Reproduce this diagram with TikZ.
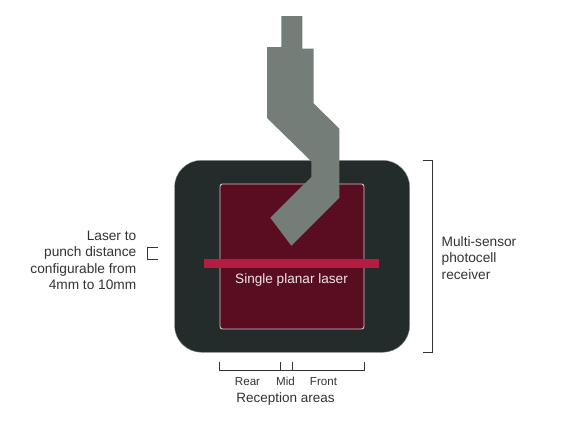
\documentclass[tikz,border=0pt]{standalone}
\usepackage{fontspec}
\setmainfont{Liberation Sans}
\definecolor{housing}{HTML}{242C2B}
\definecolor{housingedge}{HTML}{8E9391}
\definecolor{panel}{HTML}{5A0C20}
\definecolor{paneledge}{HTML}{CFC6C8}
\definecolor{laser}{HTML}{B51C42}
\definecolor{punch}{HTML}{757D79}
\definecolor{ink}{HTML}{333333}
\tikzset{
  housingbox/.style={fill=housing,draw=housingedge,line width=0.4pt,rounded corners=27pt},
  panelbox/.style={fill=panel,draw=paneledge,line width=0.9pt,rounded corners=2.5pt},
  laserbar/.style={fill=laser,draw=none},
  punchshape/.style={fill=punch,draw=none},
  bracket/.style={draw=ink,line width=0.9pt},
  lab/.style={text=ink,font=\fontsize{13.7}{16.4}\selectfont,inner sep=0pt},
  smalllab/.style={text=ink,font=\fontsize{11.6}{13}\selectfont,inner sep=0pt},
  midlab/.style={text=ink,font=\fontsize{13.5}{15}\selectfont,inner sep=0pt}
}
\begin{document}
\begin{tikzpicture}[x=1pt,y=-1pt]
\useasboundingbox (0,0) rectangle (568,426);
\fill[white] (0,0) rectangle (568,426);
% housing and receiver panel
\draw[housingbox] (174.5,160.3) rectangle (409.7,352.3);
\draw[panelbox] (220,184) rectangle (364,329);
% punch
\fill[punchshape] (281.3,16) -- (302.3,16) -- (302.3,48.7) -- (313.7,48.7) -- (313.7,103.3)
  -- (339.3,128.7) -- (339.3,197.7) -- (291.3,245.7) -- (270.3,217.7) -- (311.3,177)
  -- (311.3,161.3) -- (267,118) -- (267,47) -- (281.3,47) -- cycle;
% laser
\fill[laserbar] (204.3,259) rectangle (379.3,268);
\node[text=white!90!panel,font=\fontsize{13.6}{15}\selectfont,inner sep=0pt] (single) at (291.5,279.5) {Single planar laser};
% right bracket
\coordinate (rt) at (422.7,160);
\coordinate (rc) at (432.7,160);
\coordinate (rd) at (432.7,352.3);
\coordinate (rb) at (422.7,352.3);
\draw[bracket] (rt) -- (rc) -- (rd) -- (rb);
\node[lab,align=left,anchor=west] (receiver) at (441.5,258) {Multi-sensor\\photocell\\receiver};
% left bracket
\coordinate (lt) at (157.5,247.7);
\coordinate (lc) at (147.9,247.7);
\coordinate (ld) at (147.9,259.3);
\coordinate (lb) at (157.5,259.3);
\draw[bracket] (lt) -- (lc) -- (ld) -- (lb);
\node[lab,align=right,anchor=east] (dist) at (136.5,260.2) {Laser to\\punch distance\\configurable from\\4mm to 10mm};
% bottom bracket
\coordinate (b1) at (219.5,361.7);
\coordinate (b2) at (219.5,370);
\coordinate (b3) at (364,370);
\coordinate (b4) at (364,361.7);
\coordinate (m1) at (280,361.7);
\coordinate (m2) at (280,370);
\coordinate (f1) at (292,361.7);
\coordinate (f2) at (292,370);
\draw[bracket] (b1) -- (b2) -- (b3) -- (b4);
\draw[bracket] (m1) -- (m2);
\draw[bracket] (f1) -- (f2);
\node[smalllab] (rear) at (247.5,381.5) {Rear};
\node[smalllab] (mid) at (285.5,381.5) {Mid};
\node[smalllab] (front) at (323.5,381.5) {Front};
\node[midlab] (areas) at (285.5,398.7) {Reception areas};
\end{tikzpicture}
\end{document}
